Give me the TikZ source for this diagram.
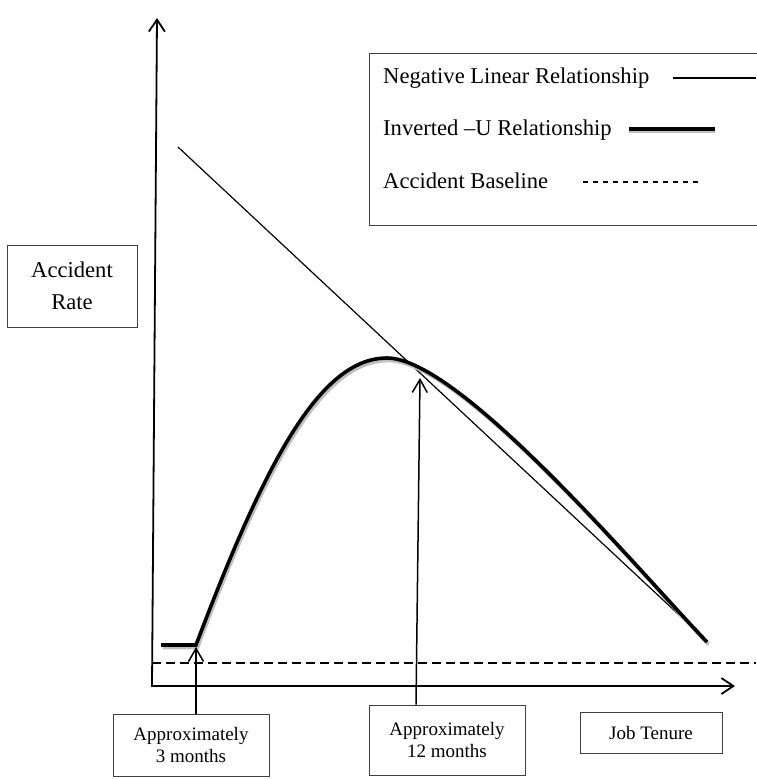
\documentclass[tikz,border=0pt]{standalone}
\usepackage{fontspec}
\setmainfont{Liberation Serif}
\usetikzlibrary{arrows.meta}

\newcommand\legendfont{\fontsize{22.6}{32}\selectfont}
\newcommand\boxfont{\fontsize{19}{22.5}\selectfont}

\tikzstyle{labelbox} = [draw=black!75, line width=0.9pt, align=center, inner sep=0pt]
\tikzstyle{axis} = [line width=1.8pt, {Straight Barb[length=12pt,width=16pt]}-{Straight Barb[length=12pt,width=16pt]}]
\tikzstyle{pointer} = [line width=1.5pt, -{Straight Barb[length=13pt,width=15pt]}]
\tikzstyle{neglin} = [line width=1.2pt]
\tikzstyle{invu} = [line width=3.6pt]
\tikzstyle{invushadow} = [line width=3.6pt, gray!50]
\tikzstyle{accbase} = [line width=1.2pt, dash pattern=on 9pt off 5pt]

\begin{document}
\begin{tikzpicture}[x=1pt, y=-1pt]
	\useasboundingbox (0,0) rectangle (756,780);
	
	% axes
	\coordinate (origin) at (152,686);
	\coordinate (ytip) at (157,18);
	\coordinate (xtip) at (735,686);
	\draw[axis] (ytip) -- (origin) -- (xtip);
	
	% baseline and lines
	\draw[accbase] (152,663) -- (756,663);
	\draw[neglin] (178,147) -- (707,641);
	\draw[invushadow, shift={(1.5,2.5)}] (161,645) -- (196,645) .. controls (265,462) and (320,358) .. (387,358) .. controls (460,358) and (640,572) .. (707,642);
	\draw[invu] (161,645) -- (196,645) .. controls (265,462) and (320,358) .. (387,358) .. controls (460,358) and (640,572) .. (707,642);
	
	% labels
	\node[labelbox, minimum width=130pt, minimum height=82pt, font=\legendfont] (rate) at (72,286) {Accident\\Rate};
	\node[labelbox, minimum width=156pt, minimum height=62pt, font=\boxfont] (m3) at (191,745) {Approximately\\3 months};
	\node[labelbox, minimum width=156pt, minimum height=70pt, font=\boxfont] (m12) at (447,740) {Approximately\\12 months};
	\node[labelbox, minimum width=142pt, minimum height=41pt, font=\boxfont] (tenure) at (651,732.5) {Job Tenure};
	
	\coordinate (tip3) at (196,647);
	\coordinate (tip12) at (420,378);
	\draw[pointer] (tip3 |- m3.north) -- (tip3);
	\draw[pointer] ([xshift=-31pt]m12.north) -- (tip12);
	
	% legend
	\node[labelbox, minimum width=420pt, minimum height=172pt, anchor=north west] (legend) at (369,53) {};
	\node[anchor=base west, inner sep=0pt, font=\legendfont] (l1) at (383,83) {Negative Linear Relationship};
	\node[anchor=base west, inner sep=0pt, font=\legendfont] (l2) at (383,135) {Inverted –U Relationship};
	\node[anchor=base west, inner sep=0pt, font=\legendfont] (l3) at (383,188) {Accident Baseline};
	\draw[neglin] (673,78) -- (756,78);
	\draw[invushadow] (629,131.5) -- (715,131.5);
	\draw[invu] (629,129) -- (715,129);
	\draw[accbase, dash pattern=on 5pt off 5pt] (583,182) -- (698,182);
\end{tikzpicture}
\end{document}
